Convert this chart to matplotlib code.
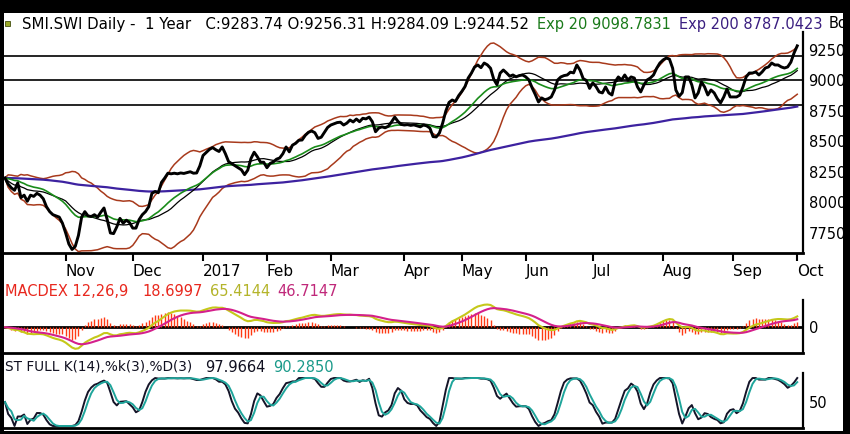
import numpy as np
import pandas as pd
import matplotlib
matplotlib.use("Agg")
import matplotlib.pyplot as plt
from matplotlib.patches import Rectangle

# ---------------- data ----------------
close = [
    8201, 8150, 8120, 8100, 8160, 8040, 8060, 8010, 8060, 8050,
    8075, 8060, 8030, 7965, 7925, 7900, 7890, 7880, 7830, 7750,
    7660, 7615, 7640, 7730, 7880, 7925, 7890, 7885, 7900, 7880,
    7920, 7955, 7860, 7750, 7745, 7800, 7870, 7830, 7855, 7835,
    7790, 7790, 7860, 7900, 7925, 7965, 8075, 8090, 8080, 8165,
    8200, 8240, 8235, 8240, 8235, 8242, 8238, 8245, 8252, 8240,
    8242, 8300, 8385, 8410, 8435, 8450, 8432, 8418, 8455, 8400,
    8335, 8318, 8300, 8283, 8268, 8228, 8265, 8360, 8412, 8375,
    8330, 8330, 8285, 8320, 8332, 8355, 8365, 8400, 8455, 8415,
    8470, 8485, 8510, 8512, 8550, 8575, 8586, 8572, 8525, 8535,
    8575, 8615, 8635, 8645, 8655, 8658, 8635, 8650, 8676, 8660,
    8684, 8662, 8690, 8685, 8700, 8662, 8580, 8610, 8620, 8612,
    8625, 8660, 8700, 8665, 8640, 8635, 8638, 8632, 8636, 8628,
    8620, 8635, 8628, 8610, 8540, 8537, 8570, 8650, 8750, 8820,
    8840, 8828, 8875, 8910, 8950, 9020, 9060, 9110, 9127, 9105,
    9143, 9128, 9100, 9010, 8965, 9060, 9086, 9062, 9035, 9045,
    9030, 9040, 9045, 9030, 9005, 8940, 8885, 8824, 8857, 8842,
    8850, 8865, 8920, 9004, 9029, 9040, 9045, 9068, 9062, 9127,
    9085, 9015, 9000, 8935, 8980, 8950, 8906, 8898, 8947, 8898,
    8881, 8990, 9029, 9004, 9045, 9004, 9029, 9020, 8947, 8906,
    8963, 9004, 9020, 9045, 9100, 9143, 9168, 9184, 9175, 9100,
    8922, 8870, 8900, 9029, 9029, 8963, 8857, 8898, 8988, 8947,
    8881, 8922, 8898, 8850, 8816, 8865, 8930, 8865, 8865, 8865,
    8880, 8947, 9029, 9061, 9061, 9070, 9045, 9070, 9102, 9111,
    9143, 9127, 9127, 9111, 9102, 9111, 9150, 9225, 9283.74,
]
month_labels = ["Nov", "Dec", "2017", "Feb", "Mar", "Apr", "May", "Jun",
                "Jul", "Aug", "Sep", "Oct"]
month_idx = [19, 40, 62, 82, 102, 125, 143, 163, 184, 206, 228, 248]
level_lines = [8800, 9000, 9200]
price_ticks = [7750, 8000, 8250, 8500, 8750, 9000, 9250]

title_main = "SMI.SWI Daily -  1 Year   C:9283.74 O:9256.31 H:9284.09 L:9244.52"
title_exp20 = "Exp 20 9098.7831"
title_exp200 = "Exp 200 8787.0423"
title_boll = "Bo"
macd_name = "MACDEX 12,26,9"
macd_vals = ["18.6997", "65.4144", "46.7147"]
stoch_name = "ST FULL K(14),%k(3),%D(3)"
stoch_vals = ["97.9664", "90.2850"]

# ---------------- indicators ----------------
s = pd.Series(close, dtype=float)
x = np.arange(len(s))
ema20 = s.ewm(span=20, adjust=False).mean()
ema200 = s.ewm(span=200, adjust=False).mean()
sma20 = s.rolling(20, min_periods=1).mean()
sd20 = s.rolling(20, min_periods=1).std(ddof=0)
upper = sma20 + 2 * sd20
lower = sma20 - 2 * sd20
macd = s.ewm(span=12, adjust=False).mean() - s.ewm(span=26, adjust=False).mean()
signal = macd.ewm(span=9, adjust=False).mean()
hist = macd - signal
hh = s.rolling(14, min_periods=1).max()
ll = s.rolling(14, min_periods=1).min()
rawk = (100 * (s - ll) / (hh - ll)).replace([np.inf, -np.inf], np.nan).fillna(50)
k_full = rawk.rolling(3, min_periods=1).mean()
d_full = k_full.rolling(3, min_periods=1).mean()

# ---------------- figure ----------------
W, H = 850, 434
fig = plt.figure(figsize=(W / 100, H / 100), dpi=100)
fig.patch.set_facecolor("white")

def fy(py):
    return 1 - py / H

L, R = 4, 803
XL = (-0.3, 249.8)

ax1 = fig.add_axes([L / W, fy(253), (R - L) / W, 240 / H])
ax2 = fig.add_axes([L / W, fy(353), (R - L) / W, 72 / H])
ax3 = fig.add_axes([L / W, fy(428), (R - L) / W, 73 / H])

for ax in (ax1, ax2, ax3):
    ax.set_facecolor("none")
    ax.set_xlim(*XL)
    for sp in ("top", "left"):
        ax.spines[sp].set_visible(False)
    ax.spines["right"].set_linewidth(1.6)
    ax.spines["bottom"].set_linewidth(2)
    ax.yaxis.tick_right()
    ax.tick_params(axis="y", length=0, pad=4, labelsize=10.5, colors="black")

BAND = "#a83a1c"
GREEN = "#1a8c1a"
PURPLE = "#3d22a0"

# main price panel
ax1.set_ylim(7586, 9553)
for lv in level_lines:
    ax1.axhline(lv, color="black", lw=1.2, zorder=1)
ax1.plot(x, upper, color=BAND, lw=1.1, zorder=2)
ax1.plot(x, lower, color=BAND, lw=1.1, zorder=2)
ax1.plot(x, ema200, color=PURPLE, lw=1.6, zorder=2)
ax1.plot(x, sma20, color="black", lw=0.9, zorder=3)
ax1.plot(x, ema20, color=GREEN, lw=1.2, zorder=3)
ax1.plot(x, s, color="black", lw=2.1, zorder=4)
ax1.spines["right"].set_bounds(7586, 9397)
ax1.set_yticks(price_ticks)
ax1.set_yticklabels([str(t) for t in price_ticks])
ax1.set_xticks(month_idx)
ax1.set_xticklabels(month_labels, ha="left")
ax1.tick_params(axis="x", direction="out", length=6, width=1.5, pad=2,
                labelsize=11)

# MACD panel
ax2.set_ylim(-150, 270)
ax2.axhline(0, color="black", lw=2, zorder=1)
ax2.vlines(x, 0, hist * 2, color="#ff3a14", lw=1.0, zorder=2)
ax2.plot(x, macd, color="#c5c81a", lw=1.5, zorder=3)
ax2.plot(x, signal, color="#d4208c", lw=1.5, zorder=3)
ax2.spines["right"].set_bounds(-150, 158)
ax2.set_yticks([0])
ax2.set_yticklabels(["0"])
ax2.set_xticks([])

# Stochastic panel
ax3.set_ylim(-4.2, 148)
ax3.plot(x, k_full, color="#141428", lw=1.4, zorder=3)
ax3.plot(x, d_full, color="#1fa59b", lw=1.4, zorder=3)
ax3.spines["right"].set_bounds(-4.2, 110)
ax3.set_yticks([50])
ax3.set_yticklabels(["50"])
ax3.set_xticks([])

# header texts
fs = 10.5
yt = fy(24)
fig.text(22 / W, yt, title_main, fontsize=10.85, va="center", color="black")
fig.text(537 / W, yt, title_exp20, fontsize=fs, va="center", color="#1a7a1a")
fig.text(679 / W, yt, title_exp200, fontsize=fs, va="center", color="#3a1e80")
fig.text(829 / W, yt, title_boll, fontsize=fs, va="center", color="black")
fig.patches.append(Rectangle((5 / W, fy(26)), 4.5 / W, 5 / H, transform=fig.transFigure,
                             facecolor="#9aa826", edgecolor="#445010", lw=0.6))

ym = fy(292)
fig.text(5 / W, ym, macd_name, fontsize=fs, va="center", color="#e8281e")
fig.text(142 / W, ym, macd_vals[0], fontsize=fs, va="center", color="#e8281e")
fig.text(210 / W, ym, macd_vals[1], fontsize=fs, va="center", color="#b4b42a")
fig.text(277 / W, ym, macd_vals[2], fontsize=fs, va="center", color="#c0287a")

ys = fy(367)
fig.text(5 / W, ys, stoch_name, fontsize=9.8, va="center", color="#101020")
fig.text(205 / W, ys, stoch_vals[0], fontsize=fs, va="center", color="#101020")
fig.text(273 / W, ys, stoch_vals[1], fontsize=fs, va="center", color="#1a9a8a")

# black frame
for (x0, y0, w, h) in [(0, 0, W, 12.5), (0, 0, 3.5, H), (843, 0, 7, H), (0, 431, W, 3)]:
    fig.patches.append(Rectangle((x0 / W, fy(y0 + h)), w / W, h / H,
                                 transform=fig.transFigure, facecolor="black",
                                 edgecolor="none", zorder=20))

fig.savefig("out.png", dpi=100)
